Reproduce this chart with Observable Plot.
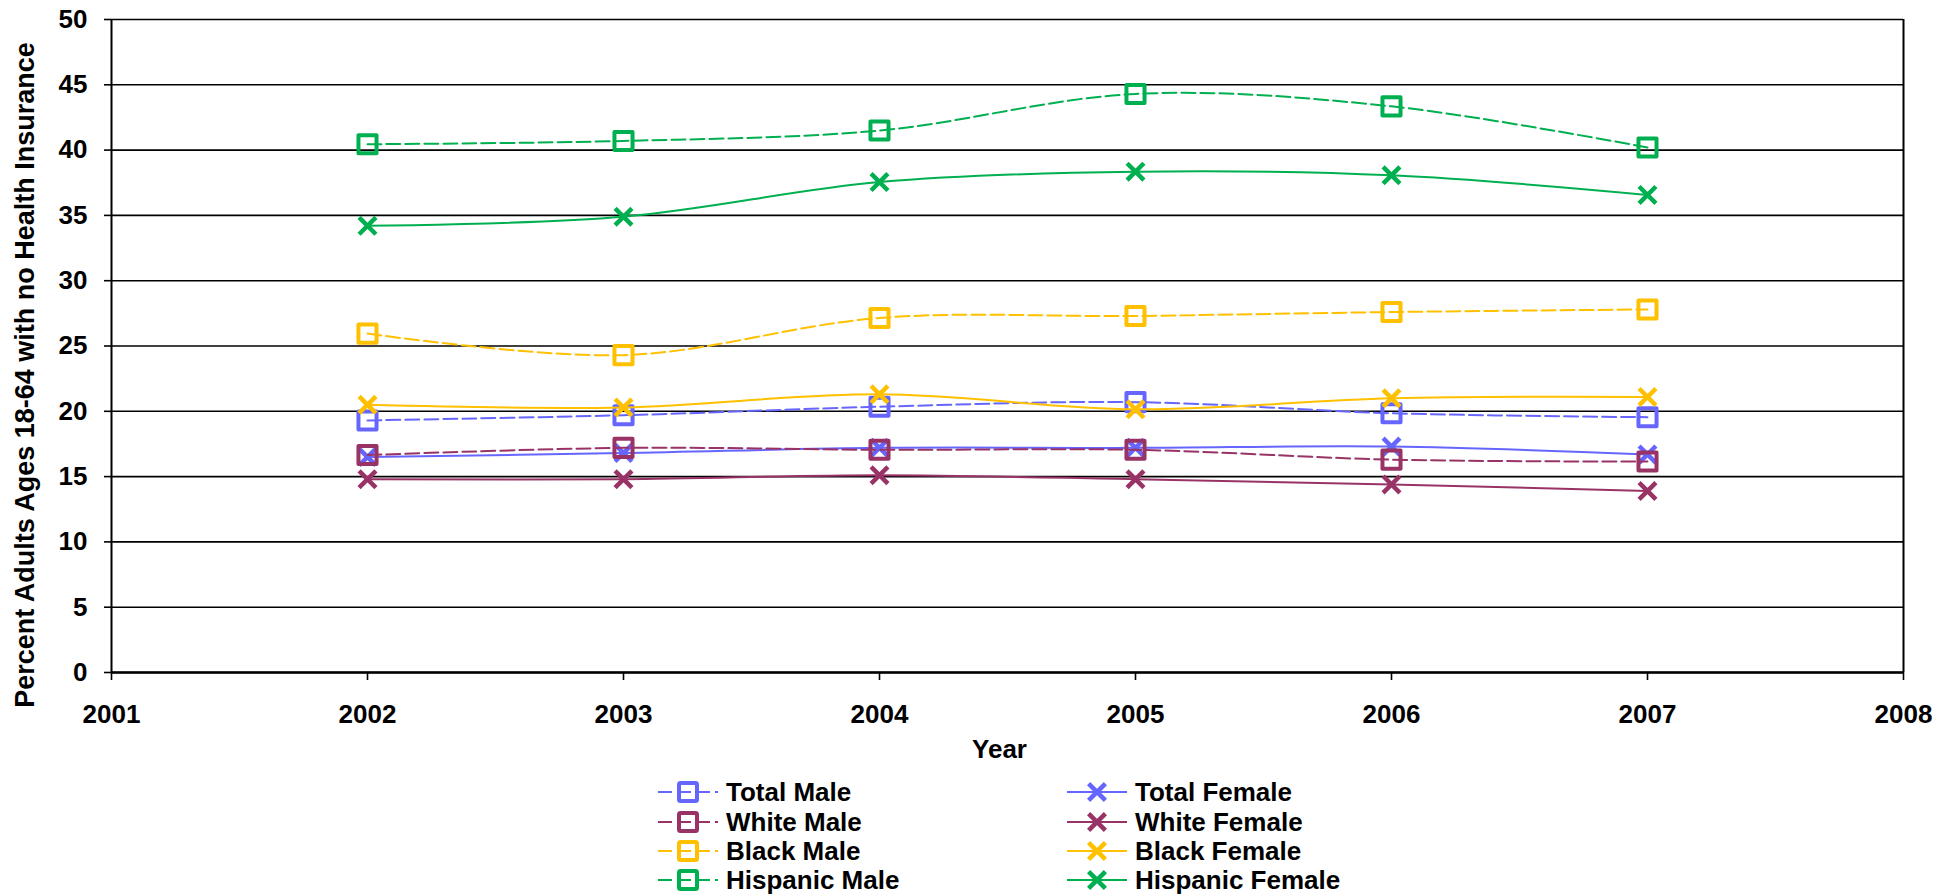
<!DOCTYPE html>
<html>
<head>
<meta charset="utf-8">
<script src="https://cdn.jsdelivr.net/npm/d3@7"></script>
<script src="https://cdn.jsdelivr.net/npm/@observablehq/plot@0.6"></script>
<style>
  body { margin: 0; background: #fff; }
  #wrap { position: relative; width: 1934px; height: 895px; overflow: hidden; font-family: "Liberation Sans", Arial, sans-serif; }
  .leg { position: absolute; display: flex; align-items: center; height: 30px; font-size: 26px; font-weight: bold; color: #000; white-space: nowrap; }
  .leg svg { flex: none; }
  .leg span { margin-left: 8px; }
</style>
</head>
<body>
<div id="wrap"></div>
<script>
const years = [2002, 2003, 2004, 2005, 2006, 2007];
const xTicks = [2001, 2002, 2003, 2004, 2005, 2006, 2007, 2008];
const yTicks = [0, 5, 10, 15, 20, 25, 30, 35, 40, 45, 50];

const seriesNames = ["Total Male", "Total Female", "White Male", "White Female", "Black Male", "Black Female", "Hispanic Male", "Hispanic Female"];
const totalMale      = [19.3, 19.7, 20.35, 20.7, 19.85, 19.55];
const totalFemale    = [16.5, 16.8, 17.2, 17.2, 17.3, 16.7];
const whiteMale      = [16.65, 17.2, 17.05, 17.05, 16.3, 16.15];
const whiteFemale    = [14.8, 14.8, 15.1, 14.8, 14.4, 13.9];
const blackMale      = [25.95, 24.3, 27.15, 27.3, 27.6, 27.8];
const blackFemale    = [20.5, 20.3, 21.3, 20.15, 21.0, 21.1];
const hispanicMale   = [40.45, 40.7, 41.5, 44.3, 43.35, 40.2];
const hispanicFemale = [34.2, 34.9, 37.55, 38.35, 38.07, 36.57];
const seriesValues = [totalMale, totalFemale, whiteMale, whiteFemale, blackMale, blackFemale, hispanicMale, hispanicFemale];
const seriesColors = ["#6666FF", "#6666FF", "#993366", "#993366", "#FFC000", "#FFC000", "#00B050", "#00B050"];

const FONT = "'Liberation Sans', Arial, sans-serif";

const seriesMarks = [];
seriesNames.forEach((name, i) => {
  const rows = years.map((y, j) => ({year: y, value: seriesValues[i][j], series: name}));
  const male = name.endsWith(" Male");
  seriesMarks.push(Plot.line(rows, {
    x: "year", y: "value", curve: "cardinal",
    stroke: seriesColors[i], strokeWidth: 2,
    strokeDasharray: male ? "14,5" : null
  }));
  seriesMarks.push(Plot.dot(rows, {
    x: "year", y: "value",
    symbol: male ? "square" : "times",
    r: male ? 10.2 : 7.7,
    stroke: seriesColors[i], strokeWidth: male ? 4 : 4.5, fill: "none",
    strokeLinejoin: "round"
  }));
});

const chart = Plot.plot({
  width: 1934,
  height: 765,
  marginLeft: 111,
  marginRight: 31,
  marginTop: 19,
  marginBottom: 93,
  style: {fontFamily: FONT, fontSize: "26px", fontWeight: "bold", color: "#000", background: "#fff"},
  x: {domain: [2001, 2008]},
  y: {domain: [0, 50]},
  marks: [
    Plot.ruleY(yTicks, {stroke: "#000", strokeWidth: 1.6}),
    Plot.ruleY([0], {stroke: "#000", strokeWidth: 2.4}),
    Plot.ruleX([2001, 2008], {stroke: "#000", strokeWidth: 2}),
    Plot.axisY({ticks: yTicks, tickSize: 7, tickPadding: 17, tickFormat: d => String(d), label: null, strokeWidth: 1.6}),
    Plot.axisX({ticks: xTicks, tickSize: 8, tickPadding: 24, tickFormat: d => String(d), label: null, strokeWidth: 1.6}),
    Plot.text(["Year"], {frameAnchor: "bottom", dx: -8, dy: 85, text: d => d, fontSize: 26, fontWeight: "bold", fill: "#000"}),
    Plot.text(["Percent Adults Ages 18-64 with no Health Insurance"], {frameAnchor: "left", textAnchor: "middle", lineAnchor: "middle", text: d => d, rotate: -90, dx: -86, dy: 29, fontSize: 27, fontWeight: "bold", fill: "#000"}),
    ...seriesMarks
  ]
});

const wrap = document.getElementById("wrap");
wrap.appendChild(chart);

// Legend (HTML, below the SVG)
const rowCenters = [792, 822, 851, 880];
const legendRows = [["Total Male", "Total Female"], ["White Male", "White Female"], ["Black Male", "Black Female"], ["Hispanic Male", "Hispanic Female"]];
const colLeft = [658, 1067];
legendRows.forEach((pair, r) => {
  pair.forEach((name, c) => {
    const idx = seriesNames.indexOf(name);
    const color = seriesColors[idx];
    const male = c === 0;
    const div = document.createElement("div");
    div.className = "leg";
    div.style.left = colLeft[c] + "px";
    div.style.top = (rowCenters[r] - 15) + "px";
    const ns = "http://www.w3.org/2000/svg";
    const s = document.createElementNS(ns, "svg");
    s.setAttribute("width", 60); s.setAttribute("height", 30);
    const ln = document.createElementNS(ns, "line");
    ln.setAttribute("x1", 0); ln.setAttribute("x2", 60); ln.setAttribute("y1", 15); ln.setAttribute("y2", 15);
    ln.setAttribute("stroke", color); ln.setAttribute("stroke-width", 2);
    if (male) ln.setAttribute("stroke-dasharray", "14,5");
    s.appendChild(ln);
    if (male) {
      const rc = document.createElementNS(ns, "rect");
      rc.setAttribute("x", 21); rc.setAttribute("y", 6); rc.setAttribute("width", 18); rc.setAttribute("height", 18);
      rc.setAttribute("fill", "none"); rc.setAttribute("stroke", color); rc.setAttribute("stroke-width", 4); rc.setAttribute("rx", 1.5);
      s.appendChild(rc);
    } else {
      const p = document.createElementNS(ns, "path");
      p.setAttribute("d", "M21.6,6.6L38.4,23.4M21.6,23.4L38.4,6.6");
      p.setAttribute("stroke", color); p.setAttribute("stroke-width", 4.5); p.setAttribute("fill", "none");
      s.appendChild(p);
    }
    div.appendChild(s);
    const t = document.createElement("span");
    t.textContent = name;
    div.appendChild(t);
    wrap.appendChild(div);
  });
});
</script>
</body>
</html>
